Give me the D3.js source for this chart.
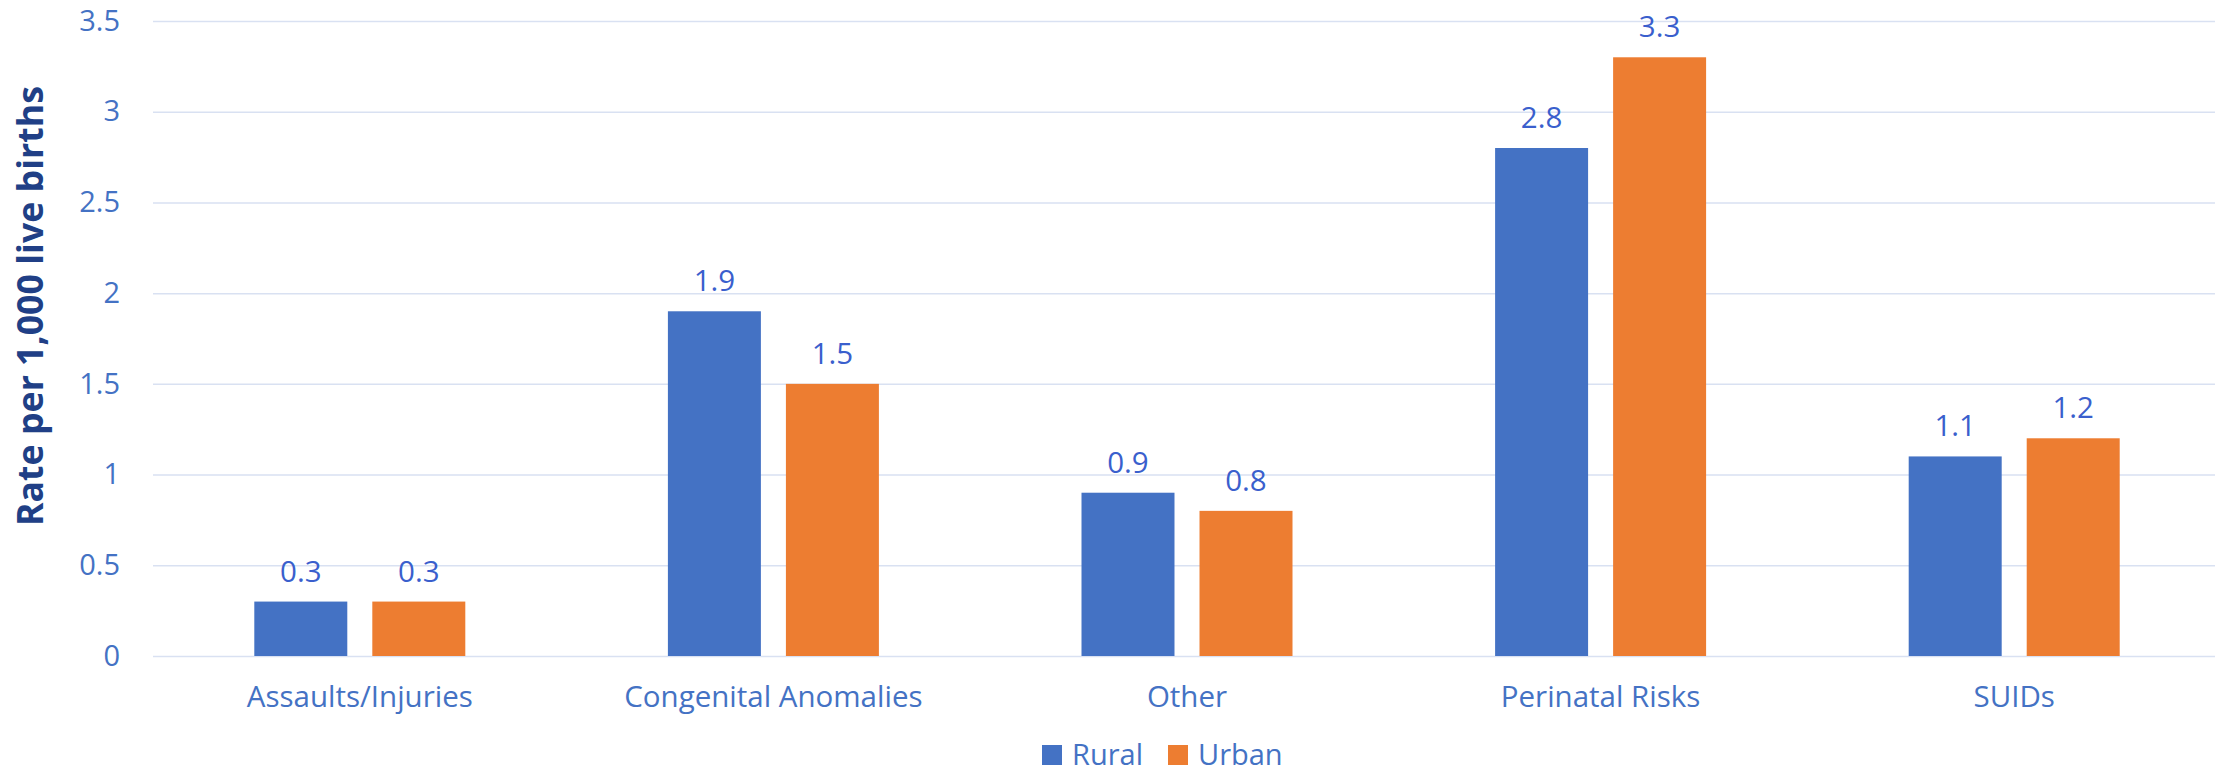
<!DOCTYPE html>
<html>
<head>
<meta charset="utf-8">
<script src="https://cdn.jsdelivr.net/npm/d3@7"></script>
<style>
  body { margin: 0; background: #fff; }
  text { font-family: "Open Sans", "Noto Sans", sans-serif; }
  .grid line { stroke: #d9e1f2; stroke-width: 1.5; }
  .grid path { display: none; }
  .yaxis path, .xaxis path, .xaxis line { display: none; }
  .yaxis text { fill: #4472c4; font-size: 29px; }
  .xaxis text { fill: #4472c4; font-size: 29.5px; }
</style>
</head>
<body>
<script>
var categories = ["Assaults/Injuries", "Congenital Anomalies", "Other", "Perinatal Risks", "SUIDs"];
var seriesNames = ["Rural", "Urban"];
var rural = [0.3, 1.9, 0.9, 2.8, 1.1];
var urban = [0.3, 1.5, 0.8, 3.3, 1.2];
var yTicks = [0, 0.5, 1, 1.5, 2, 2.5, 3, 3.5];
var colors = ["#4472c4", "#ed7d31"];

var width = 2215,
    height = 774;

var plotLeft = 153, plotRight = 2221, plotTop = 21, plotBottom = 656;

var svg = d3.select("body").append("svg")
  .attr("width", width)
  .attr("height", height);

var x0 = d3.scaleBand()
  .domain(categories)
  .range([plotLeft, plotRight])
  .padding(0);

var groupWidth = 211;
var x1 = d3.scaleBand()
  .domain(seriesNames)
  .range([0, groupWidth])
  .paddingInner(0.212);

var y = d3.scaleLinear()
  .domain([0, 3.5])
  .range([plotBottom, plotTop]);

// gridlines
svg.append("g")
  .attr("class", "grid")
  .attr("transform", "translate(" + plotLeft + ",0)")
  .call(d3.axisRight(y).tickValues(yTicks).tickSize(width - plotLeft).tickFormat(""));

// y labels
svg.append("g")
  .attr("class", "yaxis")
  .attr("transform", "translate(" + (plotLeft - 33) + ",0)")
  .call(d3.axisLeft(y).tickValues(yTicks).tickSize(0).tickPadding(0).tickFormat(d3.format("")));

// x labels
svg.append("g")
  .attr("class", "xaxis")
  .attr("transform", "translate(0," + plotBottom + ")")
  .call(d3.axisBottom(x0).tickSize(0).tickPadding(30));

var rows = categories.map(function(c, i) {
  return { cat: c, values: [{ s: "Rural", v: rural[i] }, { s: "Urban", v: urban[i] }] };
});

var groups = svg.append("g").selectAll("g")
  .data(rows)
  .enter().append("g")
    .attr("transform", function(d) { return "translate(" + (x0(d.cat) + (x0.bandwidth() - groupWidth) / 2) + ",0)"; });

groups.selectAll("rect")
  .data(function(d) { return d.values; })
  .enter().append("rect")
    .attr("x", function(d) { return x1(d.s); })
    .attr("y", function(d) { return y(d.v); })
    .attr("width", x1.bandwidth())
    .attr("height", function(d) { return y(0) - y(d.v); })
    .attr("fill", function(d, i) { return colors[i]; });

groups.selectAll("text.val")
  .data(function(d) { return d.values; })
  .enter().append("text")
    .attr("class", "val")
    .attr("x", function(d) { return x1(d.s) + x1.bandwidth() / 2; })
    .attr("y", function(d) { return y(d.v) - 20; })
    .attr("text-anchor", "middle")
    .attr("fill", "#3a5fcd")
    .style("font-size", "29.5px")
    .text(function(d) { return d3.format(".1f")(d.v); });

// y title
svg.append("text")
  .attr("transform", "translate(43,306) rotate(-90)")
  .attr("text-anchor", "middle")
  .attr("fill", "#203f86")
  .attr("textLength", 440)
  .attr("lengthAdjust", "spacingAndGlyphs")
  .style("font-size", "36px")
  .style("font-weight", "bold")
  .text("Rate per 1,000 live births");

// legend
var legendX = [1042, 1168];
var legend = svg.append("g").selectAll("g")
  .data(seriesNames)
  .enter().append("g")
    .attr("transform", function(d, i) { return "translate(" + legendX[i] + ",745)"; });

legend.append("rect")
  .attr("width", 20)
  .attr("height", 20)
  .attr("fill", function(d, i) { return colors[i]; });

legend.append("text")
  .attr("x", 30)
  .attr("y", 20)
  .attr("fill", "#4472c4")
  .style("font-size", "29px")
  .text(function(d) { return d; });
</script>
</body>
</html>
